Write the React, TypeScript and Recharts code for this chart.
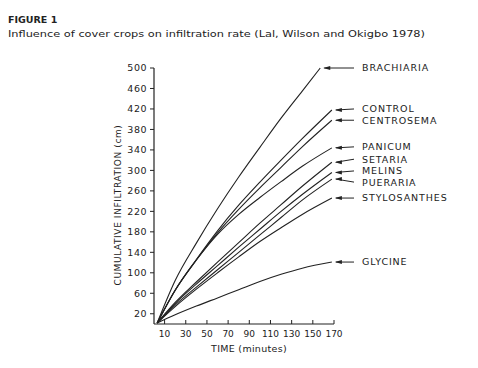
import { LineChart, Line, XAxis, YAxis } from 'recharts'

// minutes
const time = [3, 20, 40, 60, 80, 100, 120, 140, 168]
const brachiariaTime = [3, 20, 40, 60, 80, 100, 120, 140, 157]

// cumulative infiltration (cm)
const brachiaria = [2, 85, 158, 225, 287, 345, 402, 455, 500]
const control = [2, 66, 126, 182, 232, 277, 320, 362, 418]
const centrosema = [2, 66, 125, 178, 224, 266, 306, 346, 398]
const panicum = [2, 66, 125, 175, 214, 247, 278, 308, 344]
const setaria = [2, 42, 82, 121, 159, 197, 233, 269, 316]
const melins = [2, 40, 78, 114, 150, 185, 220, 253, 296]
const pueraria = [2, 37, 72, 106, 140, 174, 208, 242, 283]
const stylosanthes = [2, 34, 68, 100, 131, 161, 188, 214, 246]
const glycine = [2, 18, 35, 51, 67, 83, 97, 109, 121]

const xTicks = [10, 30, 50, 70, 90, 110, 130, 150, 170]
const yTicks = [20, 60, 100, 140, 180, 220, 260, 300, 340, 380, 420, 460, 500]

const series = [
  { name: 'BRACHIARIA', t: brachiariaTime, v: brachiaria, dy: 0 },
  { name: 'CONTROL', t: time, v: control, dy: -1 },
  { name: 'CENTROSEMA', t: time, v: centrosema, dy: 0 },
  { name: 'PANICUM', t: time, v: panicum, dy: -1 },
  { name: 'SETARIA', t: time, v: setaria, dy: -3 },
  { name: 'MELINS', t: time, v: melins, dy: -1.5 },
  { name: 'PUERARIA', t: time, v: pueraria, dy: 3 },
  { name: 'STYLOSANTHES', t: time, v: stylosanthes, dy: 0 },
  { name: 'GLYCINE', t: time, v: glycine, dy: 0 },
]

const INK = '#222'
const FONT = '"DejaVu Sans", sans-serif'
const LABEL_X = 362

function endLabel(name: string, last: number, dy: number) {
  return (props: any) => {
    if (props.index !== last) return null
    const x = props.x ?? props.viewBox?.x
    const y = props.y ?? props.viewBox?.y
    if (x == null || y == null) return null
    const ly = y + dy
    return (
      <g>
        <line x1={x + 4} y1={y} x2={LABEL_X - 8} y2={ly} stroke={INK} strokeWidth={1} />
        <polygon points={`${x + 3},${y} ${x + 10},${y - 2} ${x + 10},${y + 2}`} fill={INK} />
        <text
          x={LABEL_X}
          y={ly}
          dy="0.36em"
          fontSize={9.5}
          fontFamily={FONT}
          letterSpacing={0.9}
          fill={INK}
        >
          {name}
        </text>
      </g>
    )
  }
}

export default function App() {
  return (
    <div style={{ position: 'absolute', left: 0, top: 0, width: 478, height: 368, background: '#fff' }}>
      <svg width={478} height={44} style={{ position: 'absolute', left: 0, top: 0 }}>
        <text x={8} y={23} fontSize={9.5} fontWeight="bold" fontFamily={FONT} fill={INK}>
          FIGURE 1
        </text>
        <text
          x={8}
          y={37}
          fontSize={9.5}
          fontFamily={FONT}
          fill={INK}
          textLength={417}
          lengthAdjust="spacingAndGlyphs"
        >
          Influence of cover crops on infiltration rate (Lal, Wilson and Okigbo 1978)
        </text>
      </svg>
      <div style={{ position: 'absolute', left: 0, top: 0 }}>
        <LineChart
          width={478}
          height={368}
          margin={{ top: 68, right: 144, bottom: 14, left: 114 }}
        >
          <XAxis
            dataKey="t"
            type="number"
            domain={[0, 170]}
            ticks={xTicks}
            interval={0}
            tickSize={-4}
            tickMargin={11}
            height={30}
            axisLine={{ stroke: INK, strokeWidth: 1.2 }}
            tickLine={{ stroke: INK }}
            tick={{ fill: INK, fontSize: 9, fontFamily: FONT }}
            label={(p: any) => {
              const vb = p.viewBox
              return (
                <text
                  x={vb.x + vb.width / 2 + 5}
                  y={vb.y + 28}
                  textAnchor="middle"
                  fontSize={9.5}
                  fontFamily={FONT}
                  letterSpacing={0.3}
                  fill={INK}
                >
                  TIME (minutes)
                </text>
              )
            }}
          />
          <YAxis
            type="number"
            domain={[0, 500]}
            ticks={yTicks}
            interval={0}
            width={40}
            tickSize={4}
            tickMargin={3}
            axisLine={{ stroke: INK, strokeWidth: 1.2 }}
            tickLine={{ stroke: INK }}
            tick={{ fill: INK, fontSize: 9.5, fontFamily: FONT, letterSpacing: 0.5 }}
            label={(p: any) => {
              const vb = p.viewBox
              const cx = vb.x + 4
              const cy = vb.y + vb.height / 2 + 9
              return (
                <text
                  x={cx}
                  y={cy}
                  transform={`rotate(-90 ${cx} ${cy})`}
                  textAnchor="middle"
                  dy="0.36em"
                  fontSize={9}
                  fontFamily={FONT}
                  letterSpacing={0.6}
                  fill={INK}
                >
                  CUMULATIVE INFILTRATION (cm)
                </text>
              )
            }}
          />
          {series.map((s) => (
            <Line
              key={s.name}
              data={s.t.map((t, i) => ({ t, v: s.v[i] }))}
              dataKey="v"
              type="monotone"
              stroke={INK}
              strokeWidth={1.1}
              dot={false}
              activeDot={false}
              isAnimationActive={false}
              label={endLabel(s.name, s.t.length - 1, s.dy)}
            />
          ))}
        </LineChart>
      </div>
    </div>
  )
}
